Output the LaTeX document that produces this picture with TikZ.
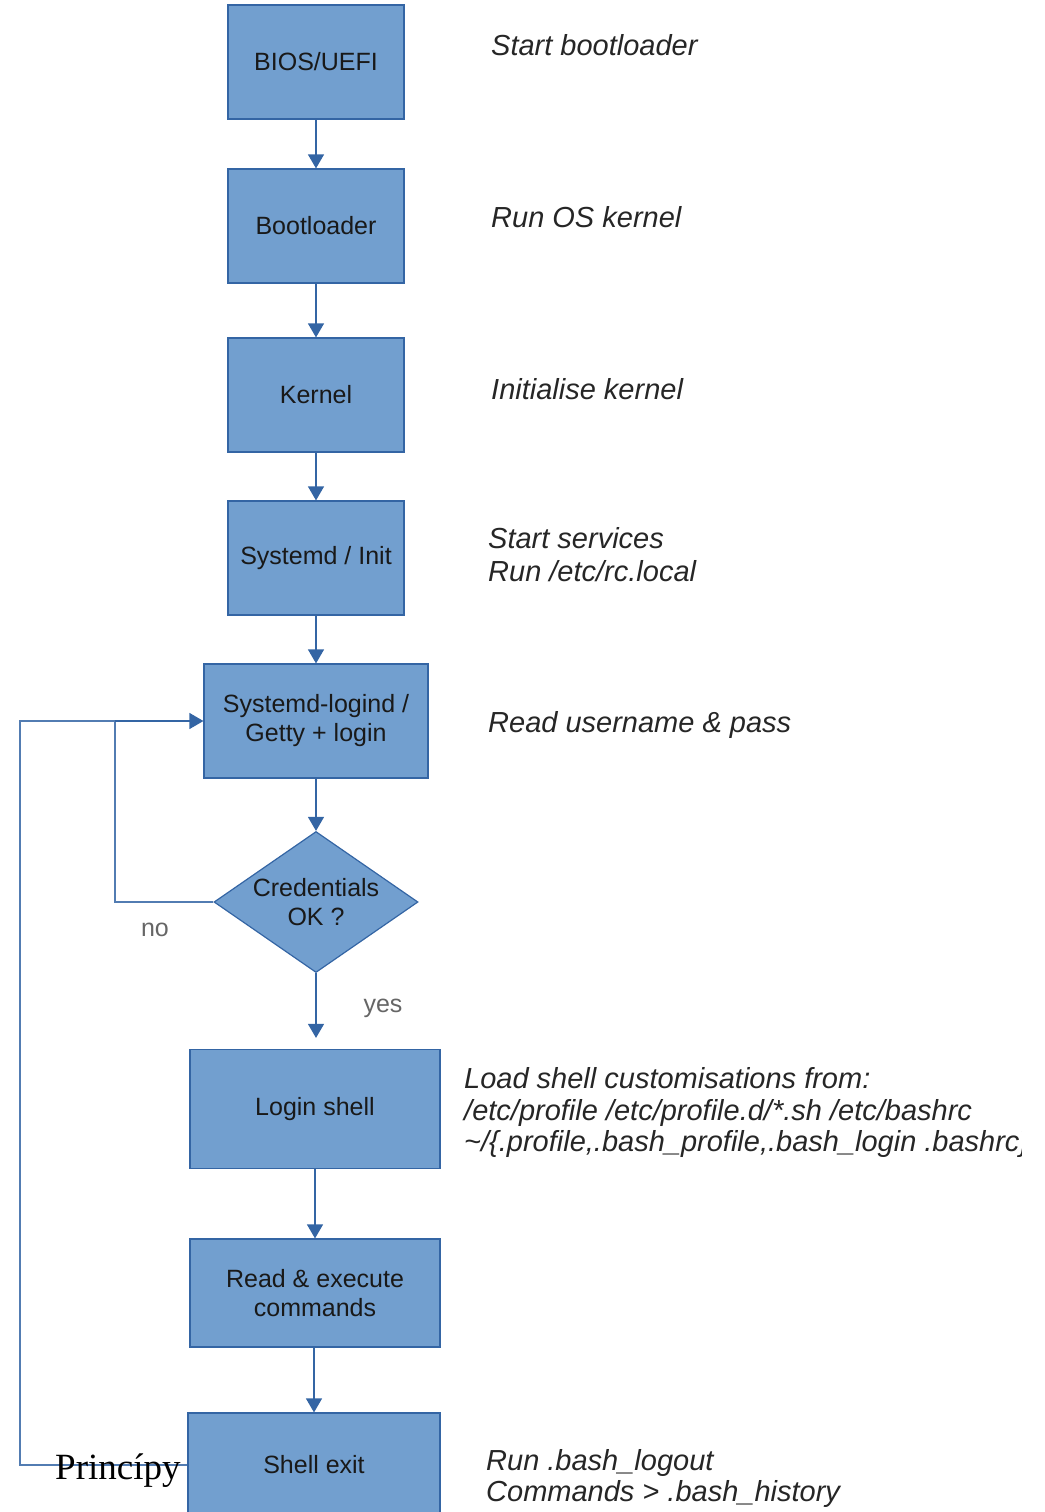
\documentclass[tikz,border=0pt]{standalone}
\usepackage{fontspec}
\setmainfont{Liberation Sans}
\newfontfamily\princfont{Liberation Serif}
\usepackage{tikz}
\usetikzlibrary{shapes.geometric,arrows.meta,positioning}
\usepackage{xcolor}
\definecolor{boxfill}{HTML}{729FCF}
\definecolor{boxline}{HTML}{3465A4}

\begin{document}
\begin{tikzpicture} [
      x = 1pt, y = -1pt,
      stepbox/.style = { draw = boxline, fill = boxfill, line width = 1.2pt, inner sep = 0,
                         align = center, text = black!90, font = \fontsize{25}{29}\selectfont },
      decision/.style = { stepbox, shape = diamond, aspect = 1.45,
                          minimum width = 204pt, minimum height = 141pt },
      note/.style = { anchor = base west, inner sep = 0, text = black!85,
                      font = \fontsize{29}{32}\selectfont\itshape },
      answer/.style = { inner sep = 0, text = black!60, font = \fontsize{25}{29}\selectfont },
      flow/.style = { draw = boxline, line width = 1.2pt, -{Triangle[length=14pt,width=16pt]} },
      retline/.style = { draw = boxline!85, line width = 1.2pt }
      ]
    \useasboundingbox (0,0) rectangle (1044,1512);

    % boot steps
    \node [stepbox, minimum width = 176pt, minimum height = 114pt] (bios) at (316,62) {BIOS/UEFI};
    \node [stepbox, minimum width = 176pt, minimum height = 114pt] (boot) at (316,226) {Bootloader};
    \node [stepbox, minimum width = 176pt, minimum height = 114pt] (kernel) at (316,395) {Kernel};
    \node [stepbox, minimum width = 176pt, minimum height = 114pt] (init) at (316,558) {Systemd / Init};
    \node [stepbox, minimum width = 224pt, minimum height = 114pt] (logind) at (316,721) {Systemd-logind /\\Getty + login};
    \node [decision] (cred) at (316,902) {Credentials\\OK ?};
    \node [stepbox, minimum width = 250pt, minimum height = 119pt] (shell) at (315,1109) {Login shell};
    \node [stepbox, minimum width = 250pt, minimum height = 108pt] (exec) at (315,1293) {Read \& execute\\commands};
    \node [stepbox, minimum width = 252pt, minimum height = 104pt] (exit) at (314,1465) {Shell exit};

    \draw [flow] (bios.south) -- (boot.north);
    \draw [flow] (boot.south) -- (kernel.north);
    \draw [flow] (kernel.south) -- (init.north);
    \draw [flow] (init.south) -- (logind.north);
    \draw [flow] (logind.south) -- (cred.north);
    \coordinate (yesend) at ([yshift=11pt]cred.south |- shell.north);
    \draw [flow] (cred.south) -- (yesend);
    \draw [flow] (shell.south) -- (exec.north);
    \draw [flow] (exit.north |- exec.south) -- (exit.north);

    % back to login
    \coordinate (noturn) at (115,721);
    \coordinate (exitturn) at (20,721);
    \draw [retline] (cred.west) -| (noturn);
    \draw [retline] (exit.west) -| (exitturn) -- (noturn);
    \draw [flow] (noturn) -- (logind.west);

    \node [answer] (no) at (155,930) {no};
    \node [answer] (yes) at (383,1008) {yes};

    % notes
    \node [note] (n1) at (491,56) {Start bootloader};
    \node [note] (n2) at (491,227) {Run OS kernel};
    \node [note] (n3) at (491,399) {Initialise kernel};
    \node [note] (n4a) at (488,548) {Start services};
    \node [note] (n4b) at (488,581) {Run /etc/rc.local};
    \node [note] (n5) at (488,732) {Read username \& pass};
    \begin{scope}
      \clip (0,0) rectangle (1021,1512);
      \node [note] (n6a) at (464,1088) {Load shell customisations from:};
      \node [note] (n6b) at (464,1120) {/etc/profile /etc/profile.d/*.sh /etc/bashrc};
      \node [note] (n6c) at (464,1151) {\textasciitilde/\{.profile,.bash\_profile,.bash\_login .bashrc\}};
    \end{scope}
    \node [note] (n7a) at (486,1470) {Run .bash\_logout};
    \node [note] (n7b) at (486,1501) {Commands > .bash\_history};

    \node [anchor = base west, inner sep = 0, font = \fontsize{37}{40}\princfont] (princ) at (55,1479) {Princípy};
\end{tikzpicture}
\end{document}
